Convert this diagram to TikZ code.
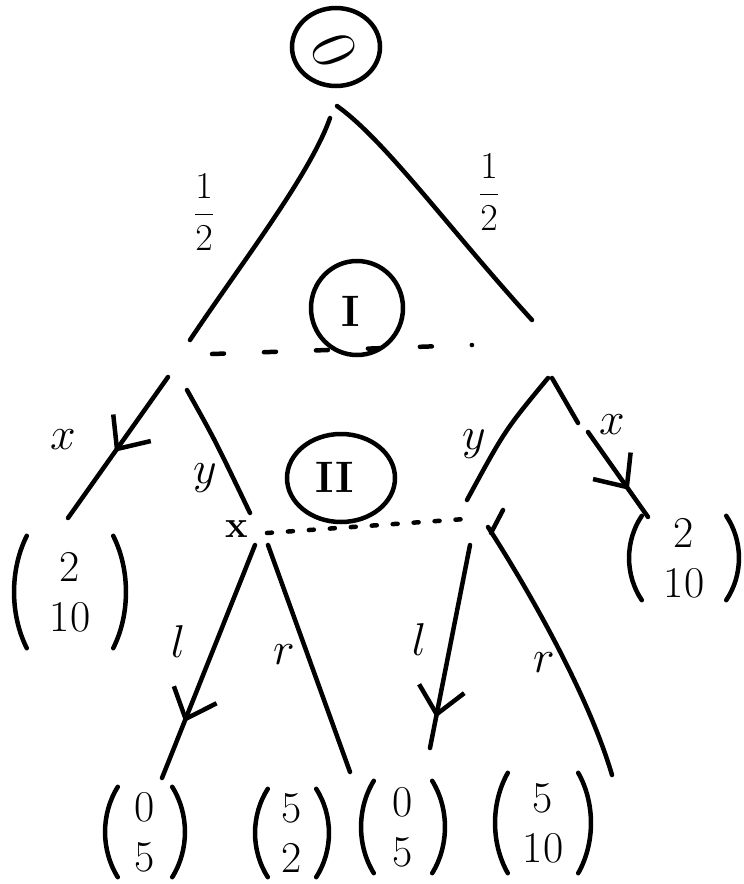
\RequirePackage{fix-cm}
\documentclass[tikz,border=0pt]{standalone}
\usetikzlibrary{arrows.meta,decorations.markings,shapes.geometric,calc}
\tikzset{
 branch/.style={line width=4.5pt, line cap=round},
 paren/.style={line width=4.5pt, line cap=round},
 midarrow/.style={postaction={decorate}, decoration={markings, mark=at position #1 with {\arrow{Straight Barb[length=26pt,width=46pt,line width=4.5pt]}}}},
 infocirc/.style={draw, ellipse, line width=4.5pt, inner sep=0pt},
 lab/.style={font=\fontsize{46}{50}\selectfont, inner sep=0pt},
 roman/.style={font=\fontsize{44}{44}\selectfont\bfseries, inner sep=0pt},
 fraclab/.style={font=\fontsize{38}{42}\selectfont, inner sep=0pt},
 payoff/.style={font=\fontsize{44}{50}\selectfont, inner sep=0pt, align=center},
 infoI/.style={line width=4.5pt, line cap=round, dash pattern=on 12pt off 40pt},
 infoII/.style={line width=4.5pt, line cap=round, dash pattern=on 5pt off 16pt},
}
\newcommand{\parens}[1]{%
 \draw[paren] ([xshift=12pt]#1.north west) .. controls ([xshift=-5pt]$(#1.north west)!0.3!(#1.south west)$) and ([xshift=-5pt]$(#1.north west)!0.7!(#1.south west)$) .. ([xshift=12pt]#1.south west);
 \draw[paren] ([xshift=-12pt]#1.north east) .. controls ([xshift=5pt]$(#1.north east)!0.3!(#1.south east)$) and ([xshift=5pt]$(#1.north east)!0.7!(#1.south east)$) .. ([xshift=-12pt]#1.south east);}
\begin{document}
\begin{tikzpicture}[x=1pt,y=-1pt]
\useasboundingbox (0,0) rectangle (744,884);
% root chance node
\node[infocirc, minimum width=88pt, minimum height=78pt] (root) at (336,47) {};
\node[font=\fontsize{64}{64}\selectfont, inner sep=0pt, rotate=-68] (zero) at (334,50) {0};
% information set circles
\node[infocirc, minimum width=92pt, minimum height=94pt] (circI) at (357,308) {};
\node[roman] (labI) at (351,311) {I};
\node[infocirc, minimum width=108pt, minimum height=88pt] (circII) at (341,478) {};
\node[roman] (labII) at (335,477) {II};
% coordinates
\coordinate (c0L) at (330,118);
\coordinate (c0R) at (337,106);
\coordinate (IL) at (190,340);
\coordinate (IR) at (532,320);
\coordinate (IL1) at (168,377);
\coordinate (IL2) at (187,390);
\coordinate (IR1) at (548,378);
\coordinate (IR2) at (552,378);
\coordinate (gapA) at (578,423);
\coordinate (gapB) at (588,432);
\coordinate (xL) at (68,518);
\coordinate (xR) at (648,517);
\coordinate (IIL) at (250,513);
\coordinate (IIR) at (467,500);
\coordinate (IIL1) at (255,545);
\coordinate (IIL2) at (268,545);
\coordinate (IIR1) at (470,545);
\coordinate (IIR2) at (488,527);
\coordinate (b1) at (162,778);
\coordinate (b2) at (350,772);
\coordinate (b3) at (430,748);
\coordinate (b4) at (612,775);
% chance branches
\draw[branch] (c0L) .. controls (310,175) and (240,265) .. (IL);
\draw[branch] (c0R) .. controls (385,140) and (450,230) .. (IR);
\node[fraclab] (hL) at (204,212) {$\displaystyle\frac{1}{2}$};
\node[fraclab] (hR) at (489,192) {$\displaystyle\frac{1}{2}$};
% information set I
\coordinate (iIa) at (212,354);
\coordinate (iIb) at (472,345);
\draw[infoI] (iIa) -- (iIb);
% player I moves
\draw[branch, midarrow=0.53] (IL1) -- (xL);
\draw[branch] (IL2) .. controls (215,440) .. (IIL);
\draw[branch] (IR1) .. controls (505,430) .. (IIR);
\draw[branch] (IR2) -- (gapA);
\draw[branch, midarrow=0.68] (gapB) -- (xR);
\node[lab] (lx1) at (63,440) {$x$};
\node[lab] (ly1) at (205,478) {$y$};
\node[lab] (ly2) at (474,444) {$y$};
\node[lab] (lx2) at (612,425) {$x$};
% information set II
\coordinate (iIIa) at (267,533);
\coordinate (iIIb) at (465,519);
\draw[infoII] (iIIa) -- (iIIb);
\node[font=\fontsize{38}{38}\selectfont\bfseries, inner sep=0pt] (xmark) at (237,529) {x};
\coordinate (tkA) at (503,510);
\coordinate (tkB) at (491,533);
\draw[branch] (tkA) -- (tkB);
% player II moves
\draw[branch, midarrow=0.76] (IIL1) -- (b1);
\draw[branch] (IIL2) -- (b2);
\draw[branch, midarrow=0.85] (IIR1) -- (b3);
\draw[branch] (IIR2) .. controls (535,600) and (590,700) .. (b4);
\node[lab] (ll1) at (178,642) {$l$};
\node[lab] (lr1) at (284,655) {$r$};
\node[lab] (ll2) at (419,640) {$l$};
\node[lab] (lr2) at (544,663) {$r$};
% payoffs
\node[payoff, minimum width=110pt, minimum height=112pt] (pL) at (70,592) {2\\10};
\node[payoff, minimum width=108pt, minimum height=84pt] (pR) at (684,558) {2\\10};
\node[payoff, minimum width=78pt, minimum height=90pt] (p1) at (145,832) {0\\5};
\node[payoff, minimum width=72pt, minimum height=88pt] (p2) at (292,833) {5\\2};
\node[payoff, minimum width=82pt, minimum height=92pt] (p3) at (403,827) {0\\5};
\node[payoff, minimum width=94pt, minimum height=100pt] (p4) at (543,823) {5\\10};
\parens{pL}
\parens{pR}
\parens{p1}
\parens{p2}
\parens{p3}
\parens{p4}
\end{tikzpicture}
\end{document}
